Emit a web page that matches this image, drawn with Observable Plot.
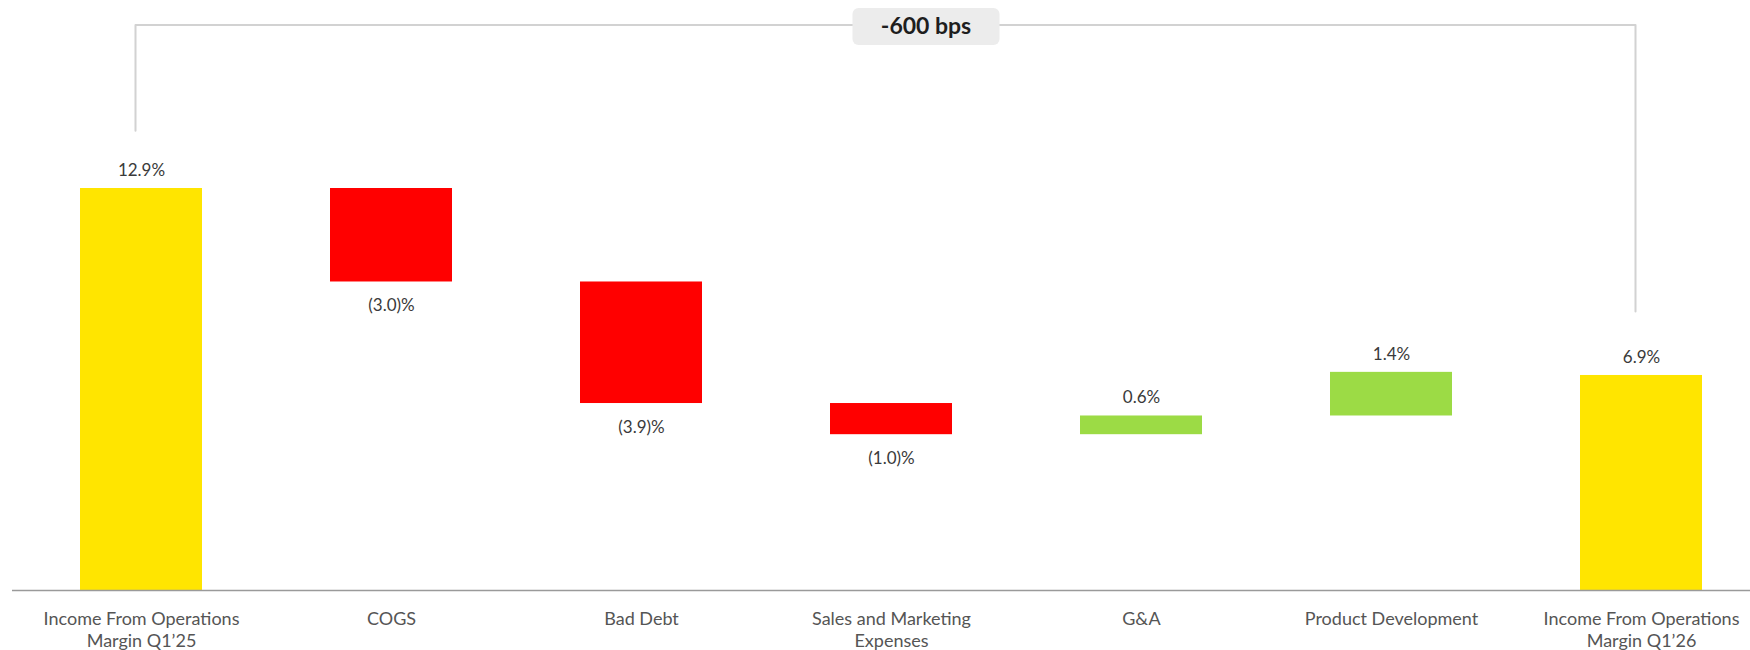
<!DOCTYPE html>
<html>
<head>
<meta charset="utf-8">
<script src="https://cdn.jsdelivr.net/npm/d3@7"></script>
<script src="https://cdn.jsdelivr.net/npm/@observablehq/plot@0.6"></script>
<style>
  html, body { margin: 0; padding: 0; background: #fff; }
  #chart { font-family: Lato, "Noto Sans", sans-serif; }
</style>
</head>
<body>
<div id="chart"></div>
<script>
// Operating margin bridge, Q1'25 -> Q1'26 (percentage points)
const categories = [
  "Income From Operations Margin Q1’25",
  "COGS",
  "Bad Debt",
  "Sales and Marketing Expenses",
  "G&A",
  "Product Development",
  "Income From Operations Margin Q1’26"
];
const tickLabels = [
  "Income From Operations\nMargin Q1’25",
  "COGS",
  "Bad Debt",
  "Sales and Marketing\nExpenses",
  "G&A",
  "Product Development",
  "Income From Operations\nMargin Q1’26"
];
const values = [12.9, -3.0, -3.9, -1.0, 0.6, 1.4, 6.9];
const kinds = ["total", "step", "step", "step", "step", "step", "total"];

// Build floating waterfall segments from the running total
let running = 0;
const bars = categories.map((cat, i) => {
  const v = values[i];
  let y1, y2, type;
  if (kinds[i] === "total") {
    y1 = 0; y2 = v; running = v; type = "total";
  } else {
    y1 = running; y2 = running + v; running = y2; type = v < 0 ? "down" : "up";
  }
  const label = v < 0 ? `(${Math.abs(v).toFixed(1)})%` : `${v.toFixed(1)}%`;
  return {cat, y1, y2, type, label, neg: v < 0, top: Math.max(y1, y2), bottom: Math.min(y1, y2)};
});

// Bracket linking the two margin totals
const first = categories[0];
const last = categories[categories.length - 1];
const startMargin = values[0];
const endMargin = values[values.length - 1];
const bps = Math.round((endMargin - startMargin) * 100);
const bracketTop = 18.15;
const bracket = [
  {x: first, y: startMargin + 1.85},
  {x: first, y: bracketTop},
  {x: last, y: bracketTop},
  {x: last, y: endMargin + 2.05}
];
const bracketLabel = [{x: categories[3], y: bracketTop, text: `${bps} bps`}];

// Rounded-rectangle badge drawn as a custom dot symbol
const badge = {
  draw(ctx) {
    const w = 147, h = 37, r = 6, x0 = -w / 2, y0 = -h / 2;
    ctx.moveTo(x0 + r, y0);
    ctx.arcTo(x0 + w, y0, x0 + w, y0 + h, r);
    ctx.arcTo(x0 + w, y0 + h, x0, y0 + h, r);
    ctx.arcTo(x0, y0 + h, x0, y0, r);
    ctx.arcTo(x0, y0, x0 + w, y0, r);
    ctx.closePath();
  }
};

const chart = Plot.plot({
  width: 1750,
  height: 650,
  marginLeft: 12,
  marginRight: 0,
  marginTop: 0,
  marginBottom: 60,
  style: {fontFamily: "Lato, 'Noto Sans', sans-serif", background: "#fff"},
  x: {domain: categories, range: [77.3, 1704.3], paddingInner: 0.513, paddingOuter: 0, label: null, axis: null},
  y: {domain: [0, 12.9], range: [590, 188], axis: null},
  color: {domain: ["total", "down", "up"], range: ["#FFE500", "#FF0000", "#9CDB45"]},
  marks: [
    Plot.barY(bars, {x: "cat", y1: "y1", y2: "y2", fill: "type"}),
    Plot.ruleY([0], {stroke: "#9a9a9a", strokeWidth: 1.6}),
    Plot.text(bars.filter(d => !d.neg), {x: "cat", y: "top", text: "label", dy: -18, fontSize: 17, fill: "#3a3a3a"}),
    Plot.text(bars.filter(d => d.neg), {x: "cat", y: "bottom", text: "label", dy: 24, fontSize: 17, fill: "#3a3a3a"}),
    Plot.line(bracket, {x: "x", y: "y", stroke: "#d2d2d2", strokeWidth: 2, dx: -6}),
    Plot.dot(bracketLabel, {x: "x", y: "y", symbol: badge, r: 10, fill: "#ececec", dx: 34.5, dy: 1.5}),
    Plot.text(bracketLabel, {x: "x", y: "y", text: "text", dx: 34.5, dy: 2, fontSize: 23, fontWeight: 700, fill: "#1e1e1e"}),
    Plot.axisX({
      tickSize: 0,
      tickPadding: 19,
      fontSize: 18,
      fill: "#555",
      lineHeight: 1.22,
      tickFormat: d => tickLabels[categories.indexOf(d)],
      label: null
    })
  ]
});

document.getElementById("chart").append(chart);
</script>
</body>
</html>
